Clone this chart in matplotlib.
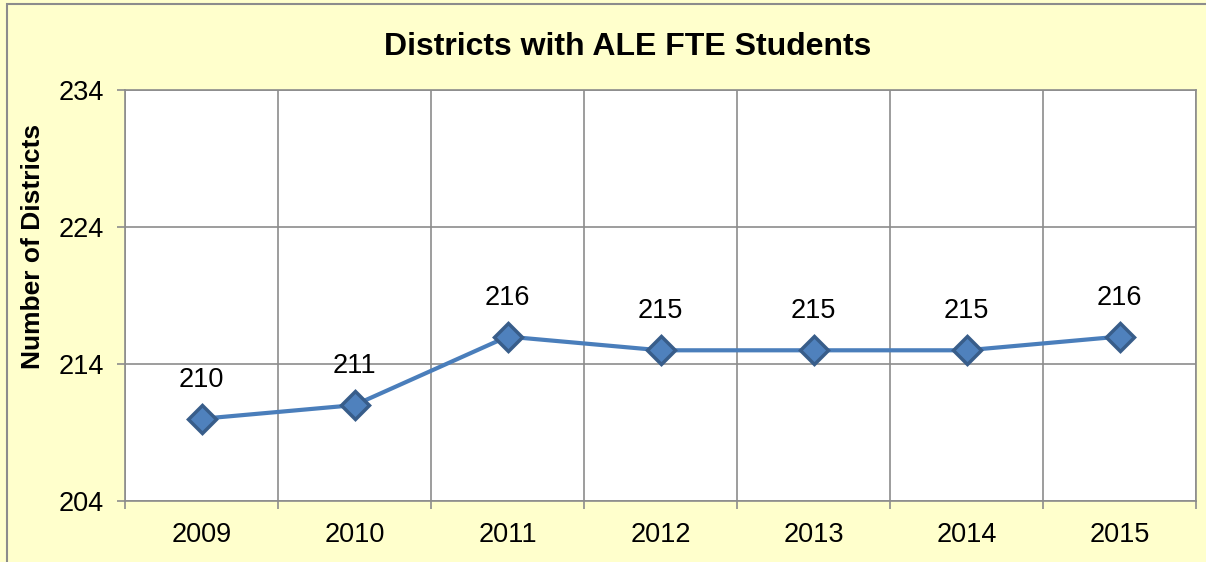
import matplotlib.pyplot as plt
from matplotlib.patches import Rectangle

years = ['2009', '2010', '2011', '2012', '2013', '2014', '2015']
districts = [210, 211, 216, 215, 215, 215, 216]
y_ticks = [204, 214, 224, 234]

plt.rcParams['font.family'] = ['Liberation Sans', 'DejaVu Sans']

W, H = 1206, 562
fig = plt.figure(figsize=(W / 100, H / 100), dpi=100, facecolor='#FFFFCC')
# plot area in pixels: left 125, top 90, right 1196, bottom 501
ax = fig.add_axes([125 / W, 1 - 501 / H, (1196 - 125) / W, (501 - 90) / H])
ax.set_facecolor('white')

# outer chart border
fig.patches.append(Rectangle((7 / W, -0.02), 1.02, 1 - 4 / H + 0.02,
                             transform=fig.transFigure, fill=False,
                             edgecolor='#8C8C8C', linewidth=1.5))

x = list(range(len(years)))
ax.plot(x, districts, color='#4A7EBB', linewidth=3, marker='D',
        markersize=14, markerfacecolor='#4F81BD', markeredgecolor='#385D8A',
        markeredgewidth=2.5, zorder=3)

for xi, v in zip(x, districts):
    ax.annotate(str(v), (xi, v), xytext=(0, 28), textcoords='offset points',
                ha='center', va='center', fontsize=19.5, color='black')

ax.set_xlim(-0.5, len(years) - 0.5)
ax.set_ylim(204, 234)
ax.set_yticks(y_ticks)
ax.set_xticks([i - 0.5 for i in range(len(years) + 1)])
ax.set_xticklabels([])
ax.set_xticks(x, minor=True)
ax.set_xticklabels(years, minor=True)

ax.grid(True, color='#8C8C8C', linewidth=1.2)
ax.set_axisbelow(True)
for s in ax.spines.values():
    s.set_color('#8C8C8C')
    s.set_linewidth(1.2)

ax.tick_params(axis='both', which='major', color='#8C8C8C', length=6,
               width=1.2, labelsize=19.5)
ax.tick_params(axis='y', pad=9)
ax.tick_params(axis='x', which='minor', length=0, labelsize=19.5, pad=15)

fig.text(33 / W, 1 - 246 / H, 'Number of Districts', rotation=90,
         ha='center', va='center', fontsize=19, fontweight='bold')
fig.text(628 / W, 1 - 47 / H, 'Districts with ALE FTE Students', ha='center',
         va='center', fontsize=23, fontweight='bold')

fig.savefig('out.png', dpi=100, facecolor=fig.get_facecolor())
